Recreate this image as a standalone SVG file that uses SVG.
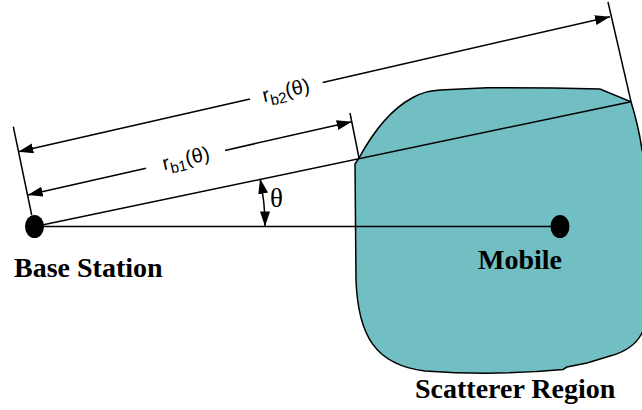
<svg xmlns="http://www.w3.org/2000/svg" width="642" height="410" viewBox="0 0 642 410">
<style>
.ln{stroke:#000;stroke-width:1.5;fill:none}
.lbl{font-family:"Liberation Serif","Times New Roman",serif;font-weight:bold;font-size:28px;fill:#000}
.dim{font-family:"Liberation Sans",Arial,sans-serif;font-size:20px;fill:#000}
.th{font-family:"Liberation Serif","Times New Roman",serif;font-size:27px;fill:#000}
</style>
<defs>
<marker id="ah" markerUnits="userSpaceOnUse" markerWidth="16" markerHeight="11" refX="15" refY="5" orient="auto-start-reverse">
<path d="M0,0 L15,5 L0,10 Z" fill="#000"/>
</marker>
</defs>
<rect width="642" height="410" fill="#fff"/>
<g id="scatterer-region">
<path d="M359,158 C372,134 390,110 412,98 C422,92 430,91 440,90 L487,87.7 L553,88 L600,89 L631,101.7 C636,118 640,135 642,150 L646,160 L646,325 L642,333 C636,345 625,352 610,356 L587,363 L567,367 L563,369.5 Q495,376 425,371 C375,365 358,335 356,280 L355,164 Z" fill="#71bec3" stroke="#000" stroke-width="1.5"/>
<text class="lbl" x="415" y="398">Scatterer Region</text>
</g>
<g id="connectors">
<line class="ln" x1="35" y1="226.5" x2="560" y2="226.5" stroke-width="2"/>
<line class="ln" x1="35" y1="226.5" x2="631" y2="101.7"/>
<line class="ln" x1="13.3" y1="126.7" x2="31.7" y2="215"/>
<line class="ln" x1="350" y1="113" x2="359" y2="158"/>
<line class="ln" x1="608" y1="2" x2="631" y2="101.7"/>
<line class="ln" x1="250" y1="99" x2="18.3" y2="151.7" marker-end="url(#ah)"/>
<line class="ln" x1="322.7" y1="82.5" x2="610" y2="16.7" marker-end="url(#ah)"/>
<line class="ln" x1="146" y1="168.3" x2="27.7" y2="195" marker-end="url(#ah)"/>
<line class="ln" x1="225" y1="150.4" x2="351.7" y2="121.7" marker-end="url(#ah)"/>
<path class="ln" d="M260.1,178.8 A230,230 0 0 1 265,226.5" marker-start="url(#ah)" marker-end="url(#ah)"/>
<text class="dim" transform="translate(286,91) rotate(-12.8)" text-anchor="middle" y="6">r<tspan font-size="15" dy="5">b2</tspan><tspan dy="-5">(θ)</tspan></text>
<text class="dim" transform="translate(186,159) rotate(-12.8)" text-anchor="middle" y="6">r<tspan font-size="15" dy="5">b1</tspan><tspan dy="-5">(θ)</tspan></text>
<text class="th" x="270" y="207">θ</text>
</g>
<g id="base-station">
<ellipse cx="34.5" cy="226.5" rx="9.5" ry="11.5" fill="#000"/>
<text class="lbl" x="14" y="277">Base Station</text>
</g>
<g id="mobile">
<ellipse cx="560" cy="226.5" rx="9.5" ry="11.5" fill="#000"/>
<text class="lbl" x="478" y="269">Mobile</text>
</g>
</svg>
